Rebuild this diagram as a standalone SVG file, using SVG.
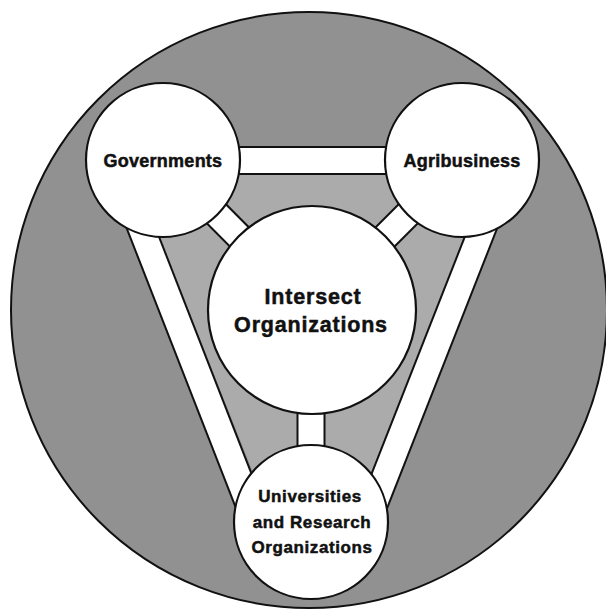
<svg xmlns="http://www.w3.org/2000/svg" width="606" height="609" viewBox="0 0 606 609">
  <style>
    .node { fill: #ffffff; stroke: #111111; stroke-width: 2.2; }
    .lbl { font-family: "Liberation Sans", Arial, Helvetica, sans-serif; font-weight: bold; fill: #111111; stroke: #111111; stroke-width: 0.5; text-anchor: middle; }
    .barOut { stroke: #111111; stroke-width: 29; fill: none; }
    .barIn { stroke: #ffffff; stroke-width: 25; fill: none; }
  </style>
  <rect x="0" y="0" width="606" height="609" fill="#ffffff"/>
  <g id="background">
    <circle cx="309" cy="310" r="298" fill="#919191" stroke="#111111" stroke-width="2"/>
    <polygon points="134,174 490,174 345,540 280,540" fill="#ababab"/>
  </g>
  <g id="connectors">
    <g class="barOut">
      <line x1="200" y1="160.5" x2="425" y2="160.5"/>
      <line x1="163" y1="160" x2="312" y2="310"/>
      <line x1="462" y1="160" x2="312" y2="310"/>
      <line x1="311" y1="310" x2="311" y2="522"/>
      <line x1="120" y1="174" x2="259" y2="530"/>
      <line x1="504" y1="174" x2="364" y2="530"/>
    </g>
    <g class="barIn">
      <line x1="200" y1="160.5" x2="425" y2="160.5"/>
      <line x1="163" y1="160" x2="312" y2="310"/>
      <line x1="462" y1="160" x2="312" y2="310"/>
      <line x1="311" y1="310" x2="311" y2="522"/>
      <line x1="120" y1="174" x2="259" y2="530"/>
      <line x1="504" y1="174" x2="364" y2="530"/>
    </g>
  </g>
  <g id="governments">
    <circle class="node" cx="163" cy="160" r="77"/>
    <text class="lbl" x="163" y="167" font-size="18" letter-spacing="0.25">Governments</text>
  </g>
  <g id="agribusiness">
    <circle class="node" cx="462" cy="160" r="77"/>
    <text class="lbl" x="462" y="167" font-size="18" letter-spacing="0.25">Agribusiness</text>
  </g>
  <g id="intersect">
    <circle class="node" cx="312" cy="310" r="104"/>
    <text class="lbl" x="313" y="303.5" font-size="21.5" letter-spacing="0.8">Intersect</text>
    <text class="lbl" x="311" y="331.5" font-size="21.5" letter-spacing="0.8">Organizations</text>
  </g>
  <g id="universities">
    <circle class="node" cx="311" cy="522" r="77"/>
    <text class="lbl" x="310" y="502" font-size="17" letter-spacing="0.6">Universities</text>
    <text class="lbl" x="312" y="528" font-size="17" letter-spacing="0.6">and Research</text>
    <text class="lbl" x="312" y="553" font-size="17" letter-spacing="0.6">Organizations</text>
  </g>
</svg>
